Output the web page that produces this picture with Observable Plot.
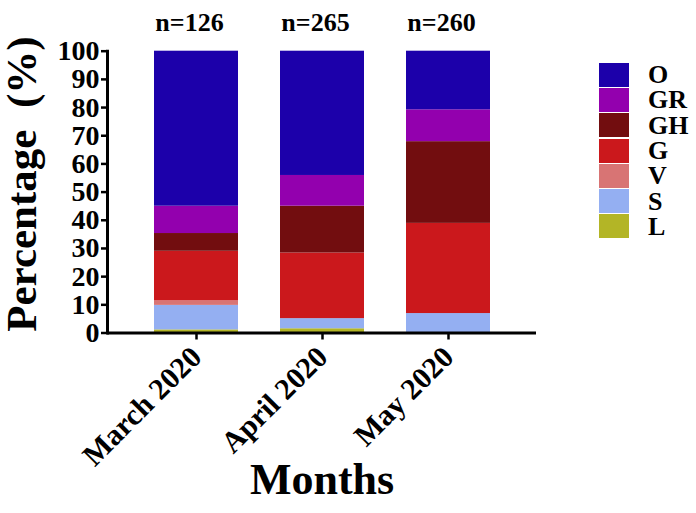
<!DOCTYPE html>
<html>
<head>
<meta charset="utf-8">
<script src="https://cdn.jsdelivr.net/npm/d3@7"></script>
<script src="https://cdn.jsdelivr.net/npm/@observablehq/plot@0.6"></script>
<style>
  body { margin: 0; background: #fff; }
  #wrap { position: relative; width: 696px; height: 513px; font-family: "Liberation Serif", "Times New Roman", serif; }
  #legend { position: absolute; left: 599px; top: 62px; }
  .row { display: flex; align-items: center; height: 25.3px; }
  .sw { width: 30px; height: 24px; }
  .lb { margin-left: 19px; font-size: 26px; font-weight: bold; line-height: 25px; color: #000; }
</style>
</head>
<body>
<div id="wrap"></div>
<script>
const months = ["March 2020", "April 2020", "May 2020"];
const counts = ["n=126", "n=265", "n=260"];
const groups = ["L", "S", "V", "G", "GH", "GR", "O"]; // stacking order bottom → top
const legendOrder = ["O", "GR", "GH", "G", "V", "S", "L"];
const colors = ["#B3B526", "#94AFF2", "#D87474", "#CB181C", "#720D0F", "#9300AE", "#1C00AA"];
const valL  = [1.1, 1.5, 0.0];
const valS  = [8.7, 3.6, 6.9];
const valV  = [1.6, 0.0, 0.0];
const valG  = [17.6, 23.3, 32.0];
const valGH = [6.3, 16.6, 29.0];
const valGR = [9.7, 10.9, 11.3];
const valO  = [55.0, 44.1, 20.8];
const yTicks = [0, 10, 20, 30, 40, 50, 60, 70, 80, 90, 100];

const series = {L: valL, S: valS, V: valV, G: valG, GH: valGH, GR: valGR, O: valO};
const data = [];
groups.forEach(g => months.forEach((m, i) => data.push({month: m, group: g, value: series[g][i]})));
const nData = months.map((m, i) => ({month: m, label: counts[i]}));

const font = "Liberation Serif";
const chart = Plot.plot({
  width: 696,
  height: 513,
  marginLeft: 107,
  marginRight: 160,
  marginTop: 50.7,
  marginBottom: 180.5,
  style: {fontFamily: font, background: "#fff", color: "#000", overflow: "visible"},
  x: {domain: months, paddingInner: 0.335, paddingOuter: 0.36, label: null},
  y: {domain: [0, 100], label: null},
  color: {domain: groups, range: colors},
  marks: [
    Plot.barY(data, {x: "month", y: "value", fill: "group", order: groups}),
    Plot.axisY({ticks: yTicks, tickSize: 6, tickPadding: 2, strokeWidth: 2.5, fontSize: 28, fontWeight: "bold", label: null}),
    Plot.axisX({tickSize: 7, strokeWidth: 2.5, tickRotate: -45, fontSize: 30, fontWeight: "bold", tickPadding: 12, label: null}),
    Plot.ruleY([0], {strokeWidth: 3}),
    Plot.frame({anchor: "left", strokeWidth: 3}),
    Plot.text(nData, {x: "month", text: "label", frameAnchor: "top", dy: -39, dx: -7, fontSize: 26, fontWeight: "bold"}),
    Plot.text(["Percentage\u00a0\u00a0(%)"], {frameAnchor: "left", textAnchor: "middle", rotate: -90, dx: -85, dy: -8, fontSize: 43, fontWeight: "bold"}),
    Plot.text(["Months"], {frameAnchor: "bottom", dy: 161, fontSize: 44, fontWeight: "bold"})
  ]
});

const wrap = document.getElementById("wrap");
wrap.appendChild(chart);
const color = chart.scale("color");
const legend = document.createElement("div");
legend.id = "legend";
legendOrder.forEach(g => {
  const row = document.createElement("div");
  row.className = "row";
  const sw = document.createElement("div");
  sw.className = "sw";
  sw.style.background = color.range[color.domain.indexOf(g)];
  const lb = document.createElement("div");
  lb.className = "lb";
  lb.textContent = g;
  row.appendChild(sw); row.appendChild(lb);
  legend.appendChild(row);
});
wrap.appendChild(legend);
</script>
</body>
</html>
